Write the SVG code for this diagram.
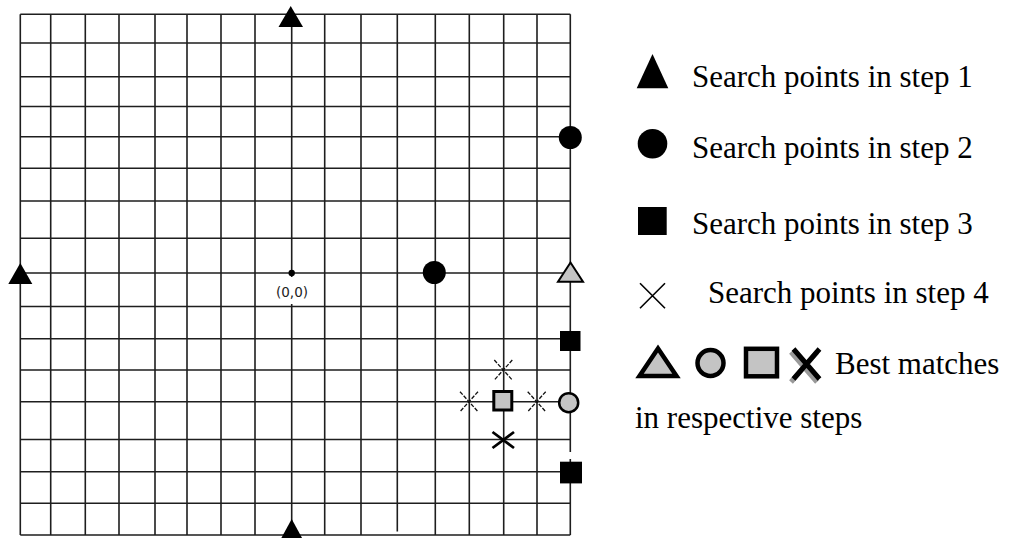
<svg xmlns="http://www.w3.org/2000/svg" width="1010" height="538" viewBox="0 0 1010 538">
<style>
.grid{stroke:#1e1e1e;stroke-width:1.6;fill:none}
.blk{fill:#000}
.best{fill:#c4c4c4;stroke:#000}
.thinx{stroke:#111;stroke-width:1.3;stroke-dasharray:4 1.5;fill:none}
.lg{font-family:"Liberation Serif","Times New Roman",serif;font-size:31px;fill:#000}
.orig{font-family:"DejaVu Sans","Liberation Sans",sans-serif;font-size:13.5px;fill:#222}
</style>
<rect width="1010" height="538" fill="#fff"/>
<g id="grid" class="grid">
<path d="M20.3,14.3V535 M50.7,14.3V535 M85.3,14.3V535 M119,14.3V535 M155,14.3V535 M187,14.3V535 M221,14.3V535 M255,14.3V535 M291.7,14.3V535 M324.7,14.3V535 M361,14.3V535 M397.3,14.3V531.5 M435.3,14.3V535 M469.3,14.3V535 M503.7,14.3V535 M537,14.3V535 M570.3,14.3V452 M570.3,459V535"/>
<path d="M20.3,14.3H570.3 M20.3,43H570.3 M20.3,76.7H570.3 M20.3,106.5H570.3 M20.3,136.7H570.3 M20.3,168.3H570.3 M20.3,201H570.3 M20.3,238.3H570.3 M20.3,273H570.3 M20.3,306.5H570.3 M20.3,338.7H570.3 M20.3,370H570.3 M20.3,401.7H570.3 M20.3,439.5H570.3 M20.3,471.7H570.3 M20.3,503.3H570.3 M20.3,535H570.3"/>
</g>
<g id="origin">
<rect x="274" y="277" width="36" height="27" fill="#fff"/>
<circle cx="291.7" cy="273" r="3.2" class="blk"/>
<text x="292" y="296.5" text-anchor="middle" class="orig">(0,0)</text>
</g>
<g id="step1-top"><polygon points="278.5,27 303,27 290.7,6" class="blk"/></g>
<g id="step1-left"><polygon points="8.3,284 32.3,284 20.3,263" class="blk"/></g>
<g id="step1-bottom"><polygon points="279.7,541 303.7,541 291.7,519" class="blk"/></g>
<g id="step1-best"><polygon points="558,281.7 583,281.7 570.5,262.5" class="best" stroke-width="2"/></g>
<g id="step2-left"><circle cx="434.3" cy="272.5" r="11.5" class="blk"/></g>
<g id="step2-top"><circle cx="570.3" cy="137.5" r="11.5" class="blk"/></g>
<g id="step2-best"><circle cx="568.7" cy="402.7" r="9.5" class="best" stroke-width="2.5"/></g>
<g id="step3-top"><rect x="560" y="331" width="20.5" height="20" class="blk"/></g>
<g id="step3-bottom"><rect x="560" y="461.7" width="22" height="21.7" class="blk"/></g>
<g id="step3-best"><rect x="493.8" y="391.5" width="18" height="18.5" class="best" stroke-width="3"/></g>
<g id="step4-top"><path d="M494.3,360 L512.3,380 M512.3,360 L494.3,380" class="thinx"/></g>
<g id="step4-left"><path d="M460,391.7 L478,411.7 M478,391.7 L460,411.7" class="thinx"/></g>
<g id="step4-right"><path d="M527.7,391.7 L545.7,411.7 M545.7,391.7 L527.7,411.7" class="thinx"/></g>
<g id="step4-best"><path d="M492.5,432 L514,448 M514,432 L492.5,448" stroke="#000" stroke-width="2.8" fill="none"/></g>
<g id="legend">
<g id="legend-1">
<polygon points="636.7,88.3 668.3,88.3 652.5,54" class="blk"/>
<text x="692" y="87" class="lg">Search points in step 1</text>
</g>
<g id="legend-2">
<circle cx="652.5" cy="143.8" r="14.8" class="blk"/>
<text x="692" y="158" class="lg">Search points in step 2</text>
</g>
<g id="legend-3">
<rect x="638" y="207" width="28.7" height="28" class="blk"/>
<text x="692" y="234" class="lg">Search points in step 3</text>
</g>
<g id="legend-4">
<path d="M640,283.3 L665,308.3 M665,283.3 L640,308.3" stroke="#000" stroke-width="1.6" fill="none"/>
<text x="708" y="303" class="lg">Search points in step 4</text>
</g>
<g id="legend-5">
<polygon points="639.5,376 676.5,376 658,348.5" class="best" stroke-width="4.5" stroke-linejoin="miter"/>
<circle cx="710.5" cy="363" r="13" class="best" stroke-width="4.5"/>
<rect x="746" y="348.8" width="31" height="27.5" class="best" stroke-width="4.5"/>
<path d="M791,352 L817,382 M817,352 L791,382" stroke="#999" stroke-width="5" fill="none"/>
<path d="M793.5,349 L819.5,379 M819.5,349 L793.5,379" stroke="#000" stroke-width="5" fill="none"/>
<text x="835" y="374" class="lg">Best matches</text>
</g>
<g id="legend-6">
<text x="635" y="428" class="lg">in respective steps</text>
</g>
</g>
</svg>
